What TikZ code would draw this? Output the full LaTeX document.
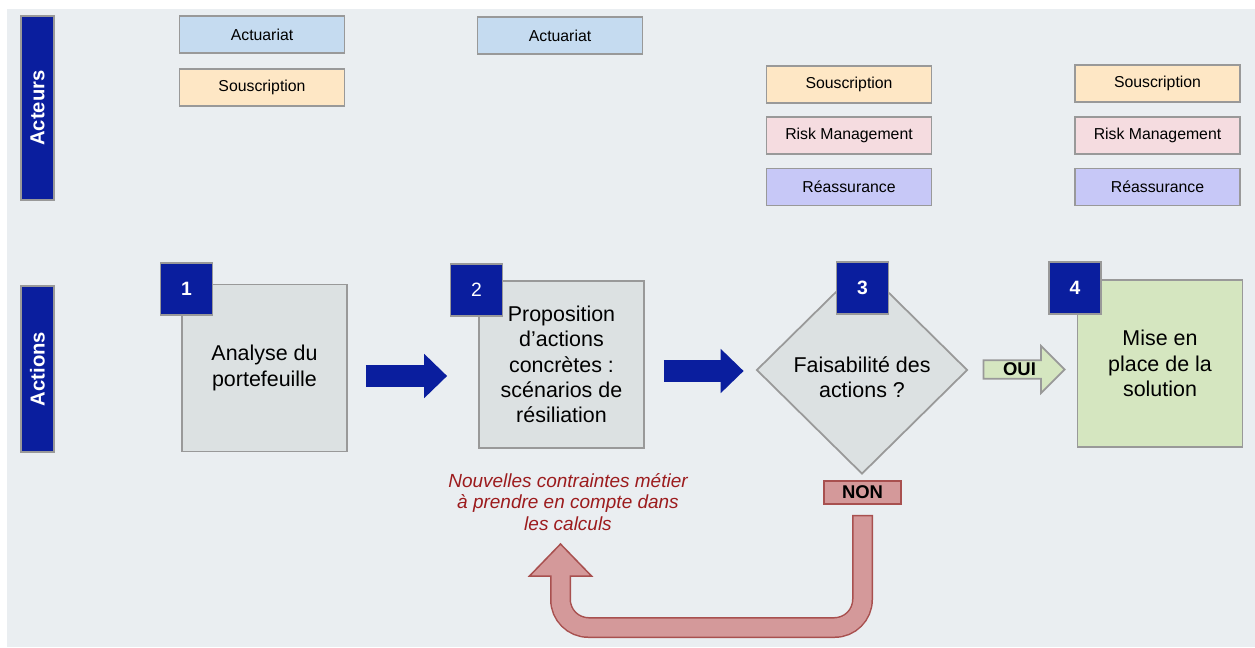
\documentclass[tikz,border=0pt]{standalone}
\usepackage{fontspec}
\setmainfont{Liberation Sans}
\usetikzlibrary{shapes.geometric, shapes.arrows, arrows.meta, positioning, calc}

\definecolor{fond}{HTML}{EAEEF1}
\definecolor{bleufonce}{HTML}{0A1E9E}
\definecolor{bordure}{HTML}{999999}
\definecolor{grisbox}{HTML}{DCE1E2}
\definecolor{actucol}{HTML}{C5DBF0}
\definecolor{souscol}{HTML}{FEE7C5}
\definecolor{riskcol}{HTML}{F5DCE0}
\definecolor{reacol}{HTML}{C7C8F7}
\definecolor{vertcol}{HTML}{D5E6C0}
\definecolor{nonfill}{HTML}{D4999A}
\definecolor{nonborder}{HTML}{A8504F}
\definecolor{rougetexte}{HTML}{9C1B1D}

\begin{document}
\begin{tikzpicture}[
  x=0.02cm, y=-0.02cm,
  node distance=0.26cm,
  base/.style={draw=bordure, line width=1pt, align=center, inner sep=0pt},
  acteur/.style={base, minimum width=3.3cm, minimum height=0.74cm, font=\fontsize{9}{11}\selectfont},
  bande/.style={base, fill=bleufonce, text=white, rotate=90, minimum height=0.66cm, font=\bfseries\fontsize{11.5}{13}\selectfont},
  etape/.style={base, fill=grisbox, minimum width=3.3cm, minimum height=3.34cm, font=\fontsize{12.2}{14.4}\selectfont},
  choix/.style={base, diamond, aspect=1, fill=grisbox, minimum width=4.22cm, minimum height=4.16cm, font=\fontsize{12.2}{14.4}\selectfont},
  numero/.style={base, fill=bleufonce, text=white, minimum size=1.04cm, font=\bfseries\fontsize{11}{13}\selectfont},
  fleche/.style={line width=0.44cm, draw=bleufonce, -{Triangle[length=0.46cm, width=0.86cm]}},
  reponse/.style={base, font=\bfseries\fontsize{10.5}{12}\selectfont},
]
  \useasboundingbox (0,0) rectangle (1255,647);
  \fill[fond] (7,9) rectangle (1255,647);

  % bandeaux
  \node[bande, minimum width=3.68cm] (acteurs) at (37.5,108) {Acteurs};
  \node[bande, minimum width=3.32cm] (actions) at (37.5,369) {Actions};

  % acteurs par etape
  \node[acteur, fill=actucol] (actu1) at (262,34.5) {Actuariat};
  \node[acteur, fill=souscol, below=0.28cm of actu1] (sous1) {Souscription};
  \node[acteur, fill=actucol] (actu2) at (560,35.5) {Actuariat};
  \node[acteur, fill=souscol] (sous3) at (849,84.5) {Souscription};
  \node[acteur, fill=riskcol, below=0.24cm of sous3] (risk3) {Risk Management};
  \node[acteur, fill=reacol, below=of risk3] (rea3) {Réassurance};
  \node[acteur, fill=souscol] (sous4) at (1157.5,83.5) {Souscription};
  \node[acteur, fill=riskcol, below=of sous4] (risk4) {Risk Management};
  \node[acteur, fill=reacol, below=of risk4] (rea4) {Réassurance};

  % etapes
  \node[etape] (analyse) at (264.5,368) {Analyse du\\ portefeuille};
  \node[etape] (propo) at (561.5,364.5) {Proposition\\ d’actions\\ concrètes :\\ scénarios de\\ résiliation};
  \node[choix, label={[align=center, font=\fontsize{12.2}{14.4}\selectfont, yshift=-0.14cm]center:Faisabilité des\\ actions ?}] (faisab) at (862,370) {};
  \node[etape, fill=vertcol] (miseplace) at (1160,363.5) {Mise en\\ place de la\\ solution};

  \node[numero] (num1) at (186.5,289) {1};
  \node[numero, font=\fontsize{11}{13}\selectfont] (num2) at (476.5,290) {2};
  \node[numero] (num3) at (862.5,288) {3};
  \node[numero] (num4) at (1075,288) {4};

  \draw[fleche, shorten <=0.36cm, shorten >=0.62cm] ([yshift=-0.16cm]analyse.east) -- ([yshift=-0.16cm]analyse.east -| propo.west);
  \draw[fleche, shorten <=0.38cm, shorten >=0.24cm] ([yshift=-0.13cm]propo.east) -- ([yshift=-0.13cm]propo.east -| faisab.west);

  \node[reponse, single arrow, fill=vertcol, minimum height=1.62cm, minimum width=0.94cm,
    single arrow head extend=0.23cm, single arrow head indent=0pt] (oui) at (1019.5,369.5) {OUI};
  \node[reponse, fill=nonfill, draw=nonborder, minimum width=1.54cm, minimum height=0.46cm] (non) at (862.5,492.5) {NON};

  \node[align=center, text=rougetexte, font=\itshape\fontsize{10.8}{12.2}\selectfont] (note) at (568,502) {Nouvelles contraintes métier\\ à prendre en compte dans\\ les calculs};

  % retour vers l'etape 2
  \coordinate (boucle) at ([yshift=-0.2cm]non.south);
  \coordinate (pointe) at (560.5,544);
  \draw[line width=0.42cm, draw=nonborder, rounded corners=0.56cm] (boucle) |- ($(pointe)+(0,83.5)$) -- ($(pointe)+(0,32)$);
  \filldraw[fill=nonfill, draw=nonborder, line width=0.85pt] (pointe) -- ++(31,32) -- ++(-62,0) -- cycle;
  \draw[line width=0.36cm, draw=nonfill, rounded corners=0.56cm] ([yshift=-0.03cm]boucle) |- ($(pointe)+(0,83.5)$) -- ($(pointe)+(0,30)$);
\end{tikzpicture}
\end{document}
